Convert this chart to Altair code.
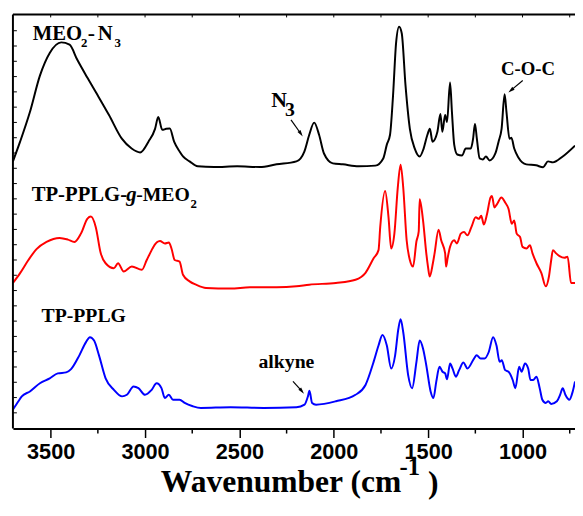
import altair as alt
import pandas as pd

# ---------------- data (wavenumber cm^-1, relative absorbance with vertical offset) -------------
meo_wn = [3700, 3662, 3610, 3557, 3505, 3444, 3400, 3359, 3306, 3254, 3191, 3123, 3071, 3026, 2982,
          2947, 2930, 2909, 2888, 2869, 2846, 2817, 2799, 2764, 2721, 2634, 2512, 2392, 2303, 2198,
          2156, 2130, 2104, 2078, 2052, 2005, 1952, 1869, 1780, 1738, 1719, 1702, 1686, 1670, 1654,
          1640, 1620, 1597, 1571, 1545, 1524, 1504, 1491, 1477, 1451, 1435, 1425, 1410, 1400, 1384,
          1374, 1362, 1346, 1320, 1301, 1274, 1262, 1252, 1242, 1227, 1210, 1194, 1174, 1144, 1127,
          1111, 1095, 1085, 1069, 1059, 1044, 1022, 980, 928, 891, 865, 839, 787, 722]
meo_ab = [271, 291, 321, 358, 381, 391.7, 389.3, 374, 356, 339, 318, 294, 284, 280, 291,
          304, 316, 303, 304, 304.3, 291, 281, 276, 271, 266, 265.3, 266, 265.3, 268, 271,
          281, 298, 310.3, 298, 279, 269, 268, 266, 266.7, 274, 288, 298, 338, 391, 407.5,
          401, 348, 304, 284, 276, 284, 298, 304, 291, 301, 319, 301, 318, 311, 351,
          321, 288, 278, 277, 284, 284, 294, 309, 294, 274, 273, 276, 272, 279, 291,
          304, 339, 321, 294, 295, 284, 275, 268, 267, 265, 271, 270, 276, 287]

graft_wn = [3700, 3662, 3618, 3575, 3522, 3453, 3409, 3374, 3339, 3305, 3287, 3261, 3235, 3209, 3165,
            3143, 3113, 3070, 3017, 2991, 2965, 2956, 2921, 2895, 2874, 2860, 2843, 2817, 2799, 2764,
            2730, 2677, 2548, 2444, 2303, 2198, 2130, 1989, 1885, 1832, 1789, 1763, 1754, 1728, 1710,
            1696, 1679, 1661, 1646, 1632, 1614, 1597, 1580, 1562, 1550, 1545, 1527, 1510, 1501, 1492,
            1475, 1466, 1445, 1431, 1410, 1405, 1397, 1384, 1362, 1348, 1327, 1310, 1292, 1271, 1248,
            1231, 1219, 1205, 1188, 1170, 1162, 1149, 1135, 1112, 1092, 1074, 1057, 1044, 1031, 1013,
            1000, 979, 961, 947, 926, 900, 877, 860, 848, 839, 822, 804, 778, 761, 743, 722]
graft_ab = [147.7, 157.7, 171, 182, 189.3, 193.3, 191.7, 189.3, 198, 213, 215, 204.3, 178, 167.7, 162.7,
            167.7, 159.3, 164.3, 161, 171, 181, 184.3, 190.3, 187.7, 188.7, 182.7, 171, 169.3, 156, 149.3,
            146, 142.7, 142, 143.3, 143.3, 144.3, 146, 147.7, 151, 158, 172.7, 181, 204.3, 241, 214.3,
            182.7, 197.7, 244.3, 267.7, 244.3, 191, 171, 164.3, 190, 200, 232.7, 211, 178, 164.3, 154.3,
            167.7, 177.7, 201.7, 191, 177.7, 164.3, 172.7, 184.3, 191, 187.7, 197.7, 199.3, 196, 204.3, 214.3,
            212.7, 216, 207, 217.7, 234.3, 236, 224.3, 227.7, 234.3, 229.3, 222.7, 207.7, 211, 197.7, 194.3,
            184.3, 182.7, 186, 177.7, 167.7, 157.7, 144.3, 154.3, 171, 181, 177.7, 175, 173.3, 174.3, 147.7, 147.7]

pplg_wn = [3700, 3671, 3653, 3610, 3557, 3505, 3462, 3418, 3392, 3348, 3313, 3292, 3270, 3244, 3209,
           3165, 3122, 3096, 3061, 3035, 3000, 2965, 2939, 2913, 2895, 2874, 2852, 2817, 2790, 2747,
           2704, 2547, 2372, 2198, 2155, 2137, 2129, 2115, 2094, 1989, 1885, 1832, 1789, 1763, 1742,
           1719, 1696, 1675, 1658, 1646, 1632, 1606, 1585, 1562, 1545, 1527, 1510, 1487, 1472, 1457,
           1440, 1424, 1410, 1400, 1384, 1371, 1353, 1336, 1313, 1292, 1257, 1243, 1222, 1201, 1179,
           1156, 1138, 1121, 1110, 1092, 1074, 1052, 1038, 1018, 1005, 987, 970, 958, 944, 926,
           909, 895, 877, 864, 848, 818, 801, 787, 773, 752, 734, 722]
pplg_ab = [19.3, 27.7, 32.7, 37.7, 46, 51, 56, 57, 60.3, 74.3, 87.7, 92.7, 89.3, 74.3, 51,
           39.3, 32.7, 34.3, 42.7, 41, 34.3, 39.3, 46, 41, 31, 34.3, 29.3, 29.3, 26, 22.7,
           21, 21.7, 21, 21.7, 24.3, 32.7, 38.3, 26, 24.3, 27.7, 34.3, 44.3, 67.7, 84.3, 95,
           84.3, 61, 74.3, 101, 111, 97.7, 54.3, 41, 67.7, 89.3, 81, 64.3, 37.7, 31, 47.7,
           62.7, 57.7, 56, 50, 66, 61, 52.7, 59.3, 67, 61, 71, 74.3, 71, 71, 77.7,
           92.7, 84.3, 67.7, 69.3, 59.3, 57.7, 49.3, 41, 62.7, 57.7, 66, 61, 49.3, 49.3, 52.7,
           41, 29.3, 26, 27.7, 25, 27.7, 34.3, 41, 34.3, 29.3, 37.7, 47.7]

series_names = ["MEO2-N3", "TP-PPLG-g-MEO2", "TP-PPLG"]
series_colors = ["#000000", "#ff0000", "#0000ff"]

x_major = [3500, 3000, 2500, 2000, 1500, 1000]
x_minor = [3250, 2750, 2250, 1750, 1250, 750]
x_top = [3500, 3250, 3000, 2750, 2500, 2250, 2000, 1750, 1500, 1250, 1000, 750]
y_ticks = [16 + 15.5 * k for k in range(26)]

X_DOMAIN = [3700, 722]
Y_DOMAIN = [0, 420]
W, H = 570, 420

SERIF = "Liberation Serif"
SANS = "Liberation Sans"

rows = []
for name, wns, abs_ in zip(series_names, [meo_wn, graft_wn, pplg_wn], [meo_ab, graft_ab, pplg_ab]):
    for w_, a_ in zip(wns, abs_):
        rows.append({"series": name, "wn": w_, "ab": a_})
df = pd.DataFrame(rows)

xs = alt.Scale(domain=X_DOMAIN, nice=False, zero=False)
ys = alt.Scale(domain=Y_DOMAIN, nice=False, zero=False)

lines = alt.Chart(df).mark_line(strokeWidth=2, clip=True, interpolate="monotone").encode(
    x=alt.X("wn:Q", scale=xs,
            axis=alt.Axis(values=x_major, format="d", title=None, grid=False, tickSize=9, tickWidth=1.5,
                          tickColor="black", domainColor="black", domainWidth=2,
                          labelFont=SANS, labelFontSize=22, labelFontWeight="bold",
                          labelColor="black", labelPadding=4, labelFlush=False)),
    y=alt.Y("ab:Q", scale=ys, axis=None),
    color=alt.Color("series:N", scale=alt.Scale(domain=series_names, range=series_colors), legend=None),
    detail="series:N",
)

frame_top = alt.Chart(pd.DataFrame({"a": [0]})).mark_rule(color="black", strokeWidth=2).encode(
    x=alt.value(0), x2=alt.value(W), y=alt.value(0))
frame_left = alt.Chart(pd.DataFrame({"a": [0]})).mark_rule(color="black", strokeWidth=2).encode(
    x=alt.value(0), y=alt.value(0), y2=alt.value(H))

minor_bottom = alt.Chart(pd.DataFrame({"wn": x_minor})).mark_rule(color="black", strokeWidth=1.5).encode(
    x=alt.X("wn:Q", scale=xs), y=alt.value(H), y2=alt.value(H + 5))
top_ticks = alt.Chart(pd.DataFrame({"wn": x_top})).mark_rule(color="black", strokeWidth=1).encode(
    x=alt.X("wn:Q", scale=xs), y=alt.value(0), y2=alt.value(3))
left_ticks = alt.Chart(pd.DataFrame({"ab": y_ticks})).mark_rule(color="black", strokeWidth=1).encode(
    y=alt.Y("ab:Q", scale=ys), x=alt.value(0), x2=alt.value(4))


def label(text, x, y, size, italic=False, weight="bold", font=SERIF, align="left"):
    return alt.Chart(pd.DataFrame({"t": [text]})).mark_text(
        font=font, fontSize=size, fontWeight=weight, fontStyle="italic" if italic else "normal",
        align=align, baseline="alphabetic", color="black").encode(
        text="t:N", x=alt.value(x), y=alt.value(y))


def arrow(x1, y1, x2, y2, ang):
    seg = alt.Chart(pd.DataFrame({"a": [0]})).mark_rule(color="black", strokeWidth=1.2).encode(
        x=alt.value(x1), y=alt.value(y1), x2=alt.value(x2), y2=alt.value(y2))
    head = alt.Chart(pd.DataFrame({"a": [0]})).mark_point(
        shape="M0,-1L0.55,1L-0.55,1Z", filled=True, size=45, angle=ang, color="black", opacity=1).encode(
        x=alt.value(x2), y=alt.value(y2))
    return seg + head


texts = [
    label("MEO", 20, 26, 21), label("2", 69, 33, 13), label("-", 76, 26, 22), label("N", 86, 26, 21),
    label("3", 103, 33, 13),
    label("N", 262, 94, 22), label("3", 276, 103, 20),
    label("C-O-C", 495, 61, 19),
    label("TP-PPLG-", 19, 189, 21), label("g", 115, 189, 21, italic=True), label("-MEO", 125, 189, 20),
    label("2", 180, 196, 13),
    label("TP-PPLG", 29, 312, 20),
    label("alkyne", 249, 359, 20),
    label("Wavenumber (cm", 150, 484, 32), label("-1", 392, 467, 25), label(")", 421, 485, 32),
]

arrows = [
    arrow(282, 107, 292, 121, 146),
    arrow(517, 67, 505, 77, 230),
    arrow(284, 372, 293, 382, 141),
]

chart = alt.layer(lines, frame_top, frame_left, minor_bottom, top_ticks, left_ticks, *texts, *arrows)

chart = chart.properties(
    width=W, height=H,
    autosize=alt.AutoSizeParams(type="none"),
    padding={"left": 5, "top": 3, "right": 0, "bottom": 80},
    background="white",
).configure_view(stroke=None)

chart.save("out.html", embed_options={"renderer": "svg", "actions": False})
